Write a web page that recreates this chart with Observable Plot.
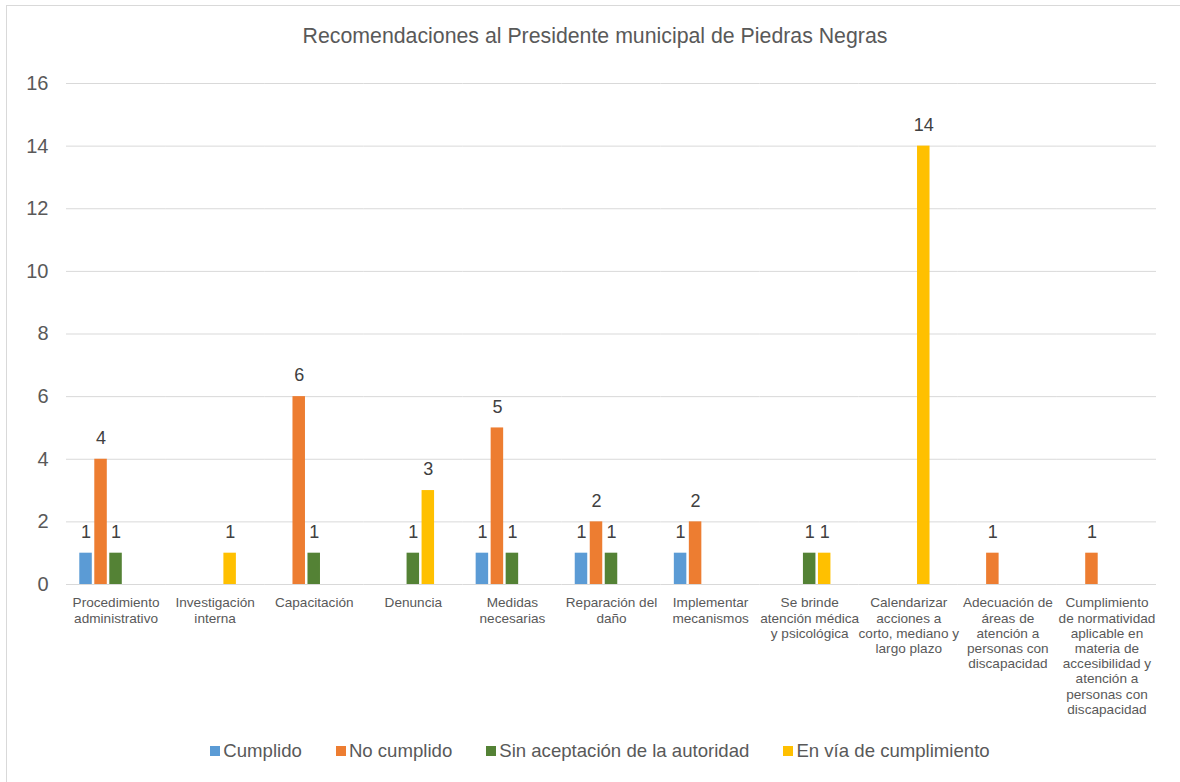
<!DOCTYPE html>
<html>
<head>
<meta charset="utf-8">
<script src="https://cdn.jsdelivr.net/npm/d3@7"></script>
<script src="https://cdn.jsdelivr.net/npm/@observablehq/plot@0.6"></script>
<style>
  html, body { margin: 0; padding: 0; background: #fff; overflow: hidden; }
  body { width: 1180px; height: 782px; position: relative; font-family: "Liberation Sans", Arial, sans-serif; }
  #frame { position: absolute; left: 6px; top: 5px; width: 1220px; height: 820px; border: 1px solid #D9D9D9; box-sizing: border-box; }
  #wrap { position: absolute; left: 0; top: 0; width: 1180px; height: 782px; }
  #title { height: 60px; position: relative; }
  #title span { position: absolute; left: 0; width: 1190px; text-align: center; top: 26px; font-size: 21.3px; color: #595959; line-height: 21px; white-space: nowrap; }
  #legend { position: absolute; left: 0; top: 731px; height: 40px; display: flex; justify-content: center; align-items: center; padding-left: 20px; box-sizing: border-box; width: 1180px; }
  .item { display: flex; align-items: center; margin: 0 17px; font-size: 18.6px; color: #595959; }
  .sw { width: 10px; height: 10px; margin-right: 3px; }
  svg { display: block; }
</style>
</head>
<body>
<div id="frame"></div>
<div id="wrap">
  <div id="title"><span>Recomendaciones al Presidente municipal de Piedras Negras</span></div>
  <div id="chart"></div>
  <div id="legend"></div>
</div>
<script>
const categories = [
  "Procedimiento\nadministrativo",
  "Investigación\ninterna",
  "Capacitación",
  "Denuncia",
  "Medidas\nnecesarias",
  "Reparación del\ndaño",
  "Implementar\nmecanismos",
  "Se brinde\natención médica\ny psicológica",
  "Calendarizar\nacciones a\ncorto, mediano y\nlargo plazo",
  "Adecuación de\náreas de\natención a\npersonas con\ndiscapacidad",
  "Cumplimiento\nde normatividad\naplicable en\nmateria de\naccesibilidad y\natención a\npersonas con\ndiscapacidad"
];
const seriesNames = ["Cumplido", "No cumplido", "Sin aceptación de la autoridad", "En vía de cumplimiento"];
const seriesColors = ["#5B9BD5", "#ED7D31", "#548235", "#FFC000"];
const cumplido      = [1, 0, 0, 0, 1, 1, 1, 0, 0, 0, 0];
const noCumplido    = [4, 0, 6, 0, 5, 2, 2, 0, 0, 1, 1];
const sinAceptacion = [1, 0, 1, 1, 1, 1, 0, 1, 0, 0, 0];
const enVia         = [0, 1, 0, 3, 0, 0, 0, 1, 14, 0, 0];
const yTicks = [0, 2, 4, 6, 8, 10, 12, 14, 16];

const seriesValues = [cumplido, noCumplido, sinAceptacion, enVia];
const data = [];
categories.forEach((c, i) => {
  seriesNames.forEach((s, j) => {
    const v = seriesValues[j][i];
    if (v > 0) data.push({category: c, series: s, value: v});
  });
});

const chart = Plot.plot({
  width: 1180,
  height: 670,
  marginTop: 23,
  marginBottom: 146,
  marginLeft: 66,
  marginRight: 24,
  style: {fontFamily: "'Liberation Sans', Arial, sans-serif", color: "#595959", background: "transparent"},
  fx: {domain: categories, padding: 0, round: false, label: null},
  x: {domain: [...seriesNames, "_"], paddingInner: 0.167, paddingOuter: 0.886, round: false, axis: null},
  y: {domain: [0, 16], label: null},
  color: {domain: seriesNames, range: seriesColors},
  marks: [
    Plot.gridY(yTicks, {stroke: "#D9D9D9", strokeOpacity: 1, strokeWidth: 1}),
    Plot.axisY(yTicks, {tickSize: 0, tickPadding: 18, fontSize: 20, fill: "#595959", label: null}),
    Plot.axisFx({anchor: "bottom", tickSize: 0, tickPadding: 12, fontSize: 13.6, lineHeight: 1.118, fill: "#595959", label: null}),
    Plot.barY(data, {fx: "category", x: "series", y: "value", fill: "series"}),
    Plot.text(data, {fx: "category", x: "series", y: "value", text: d => String(d.value), dy: -21, fontSize: 18, fill: "#404040"})
  ]
});
document.getElementById("chart").appendChild(chart);

const legend = document.getElementById("legend");
seriesNames.forEach((s, i) => {
  const it = document.createElement("div");
  it.className = "item";
  const sw = document.createElement("div");
  sw.className = "sw";
  sw.style.background = seriesColors[i];
  const t = document.createElement("span");
  t.textContent = s;
  it.appendChild(sw);
  it.appendChild(t);
  legend.appendChild(it);
});
</script>
</body>
</html>
